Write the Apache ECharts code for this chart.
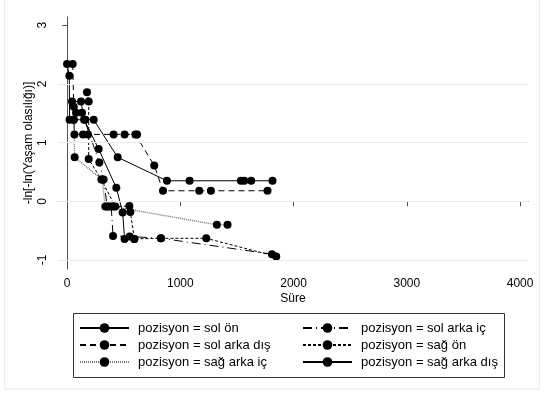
<!DOCTYPE html>
<html>
<head>
<meta charset="utf-8">
<script src="https://cdn.jsdelivr.net/npm/echarts@6/dist/echarts.min.js"></script>
<style>
html,body{margin:0;padding:0;background:#fff;}
#chart{width:544px;height:394px;}
</style>
</head>
<body>
<div id="chart"></div>
<script>
const seriesNames = ['pozisyon = sol ön', 'pozisyon = sol arka iç', 'pozisyon = sol arka dış', 'pozisyon = sağ ön', 'pozisyon = sağ arka iç', 'pozisyon = sağ arka dış'];

const solOnTime = [0, 20, 22, 59, 161, 235, 447, 882, 1082, 1535, 1565, 1626, 1814];
const solOnVal  = [2.34, 2.14, 1.39, 1.39, 1.39, 1.39, 0.75, 0.35, 0.35, 0.35, 0.35, 0.35, 0.35];

const solArkaIcTime = [79, 132, 285, 323, 355, 370, 390, 406, 553, 829, 1809];
const solArkaIcVal  = [1.51, 1.51, 0.66, 0.37, -0.09, -0.09, -0.09, -0.59, -0.60, -0.63, -0.90];

const solArkaDisTime = [50, 59, 65, 141, 185, 411, 508, 603, 618, 770, 847, 1167, 1270, 1770];
const solArkaDisVal  = [2.34, 1.61, 1.14, 1.14, 1.14, 1.14, 1.14, 1.14, 1.14, 0.61, 0.18, 0.18, 0.18, 0.18];

const sagOnTime = [176, 191, 191, 303, 426, 550, 559, 594, 829, 1229, 1847];
const sagOnVal  = [1.86, 1.70, 0.72, 0.37, -0.09, -0.08, -0.18, -0.64, -0.63, -0.63, -0.94];

const sagArkaIcTime = [59, 67, 310, 338, 410, 1323, 1417];
const sagArkaIcVal  = [1.39, 0.75, 0.37, -0.09, -0.09, -0.40, -0.40];

const sagArkaDisTime = [44, 123, 150, 279, 435, 491, 508, 594];
const sagArkaDisVal  = [1.70, 1.70, 1.39, 0.89, 0.23, -0.19, -0.64, -0.64];

const xTicks = [0, 1000, 2000, 3000, 4000];
const yTicks = [-1, 0, 1, 2, 3];
const yGrid = [-1, 0, 1, 2];

function zip(a, b) { return a.map((t, i) => [t, b[i]]); }

const lineTypes = ['solid', [9, 4, 1, 4], [6, 4], [3, 2], [1, 1], 'solid'];
const lineColors = ['#000', '#000', '#000', '#000', '#777', '#000'];
const lineWidths = [1, 1, 1, 1, 1.5, 1];
const dataSets = [
  zip(solOnTime, solOnVal),
  zip(solArkaIcTime, solArkaIcVal),
  zip(solArkaDisTime, solArkaDisVal),
  zip(sagOnTime, sagOnVal),
  zip(sagArkaIcTime, sagArkaIcVal),
  zip(sagArkaDisTime, sagArkaDisVal)
];

const FONT = '"Liberation Sans", Arial, sans-serif';

const series = [{
  type: 'line',
  data: [],
  z: 1,
  silent: true,
  markLine: {
    silent: true,
    symbol: 'none',
    label: { show: false },
    lineStyle: { color: '#e4eeee', type: 'solid', width: 1 },
    data: yGrid.map(v => ({ yAxis: v }))
  }
}];
dataSets.forEach((d, i) => {
  series.push({
    name: seriesNames[i],
    type: 'line',
    data: d,
    z: 3,
    symbol: 'circle',
    symbolSize: 8,
    showSymbol: true,
    itemStyle: { color: '#000' },
    lineStyle: { color: lineColors[i], width: lineWidths[i], type: lineTypes[i] }
  });
});

const legendText = { fontSize: 13, color: '#000', lineHeight: 14, fontFamily: FONT, padding: [0, 0, 0, 4] };

const chart = echarts.init(document.getElementById('chart'), null, { renderer: 'canvas' });
chart.setOption({
  animation: false,
  backgroundColor: '#fff',
  textStyle: { fontFamily: FONT },
  grid: { left: 58, right: 16, top: 17, bottom: 125, containLabel: false },
  xAxis: {
    type: 'value',
    min: -80, max: 4070,
    name: 'Süre',
    nameLocation: 'middle',
    nameGap: 24,
    nameMoveOverlap: false,
    nameTextStyle: { fontSize: 12, color: '#000', fontFamily: FONT },
    axisLine: { show: true, lineStyle: { color: '#555', width: 1 } },
    axisTick: { show: true, length: 5, customValues: xTicks, lineStyle: { color: '#555' } },
    axisLabel: { customValues: xTicks, formatter: v => String(v), fontSize: 12, color: '#000', margin: 9, fontFamily: FONT },
    splitLine: { show: false }
  },
  yAxis: {
    type: 'value',
    min: -1.153, max: 3.14,
    name: '-ln[-ln(Yaşam olasılığı)]',
    nameLocation: 'middle',
    nameGap: 23,
    nameMoveOverlap: false,
    nameRotate: 90,
    nameTextStyle: { fontSize: 12, color: '#000', fontFamily: FONT },
    axisLine: { show: true, lineStyle: { color: '#555', width: 1 } },
    axisTick: { show: true, length: 5, customValues: yTicks, lineStyle: { color: '#555' } },
    axisLabel: { customValues: yTicks, formatter: v => String(v), rotate: 90, fontSize: 12, color: '#000', margin: 9, fontFamily: FONT },
    splitLine: { show: false }
  },
  legend: [{
    orient: 'vertical',
    left: 79, top: 321,
    padding: 0,
    itemWidth: 49, itemHeight: 12, itemGap: 3,
    data: [seriesNames[0], seriesNames[2], seriesNames[4]],
    textStyle: legendText,
    selectedMode: false
  }, {
    orient: 'vertical',
    left: 302, top: 321,
    padding: 0,
    itemWidth: 49, itemHeight: 12, itemGap: 3,
    data: [seriesNames[1], seriesNames[3], seriesNames[5]],
    textStyle: legendText,
    selectedMode: false
  }],
  graphic: [{
    type: 'rect',
    shape: { x: 73.5, y: 313.5, width: 431, height: 64 },
    style: { fill: 'none', stroke: '#333', lineWidth: 1 },
    z: 0
  }, {
    type: 'rect',
    shape: { x: 4.5, y: -2, width: 535, height: 391 },
    style: { fill: 'none', stroke: '#e6eeee', lineWidth: 1 },
    z: 0
  }],
  series: series
});
</script>
</body>
</html>
